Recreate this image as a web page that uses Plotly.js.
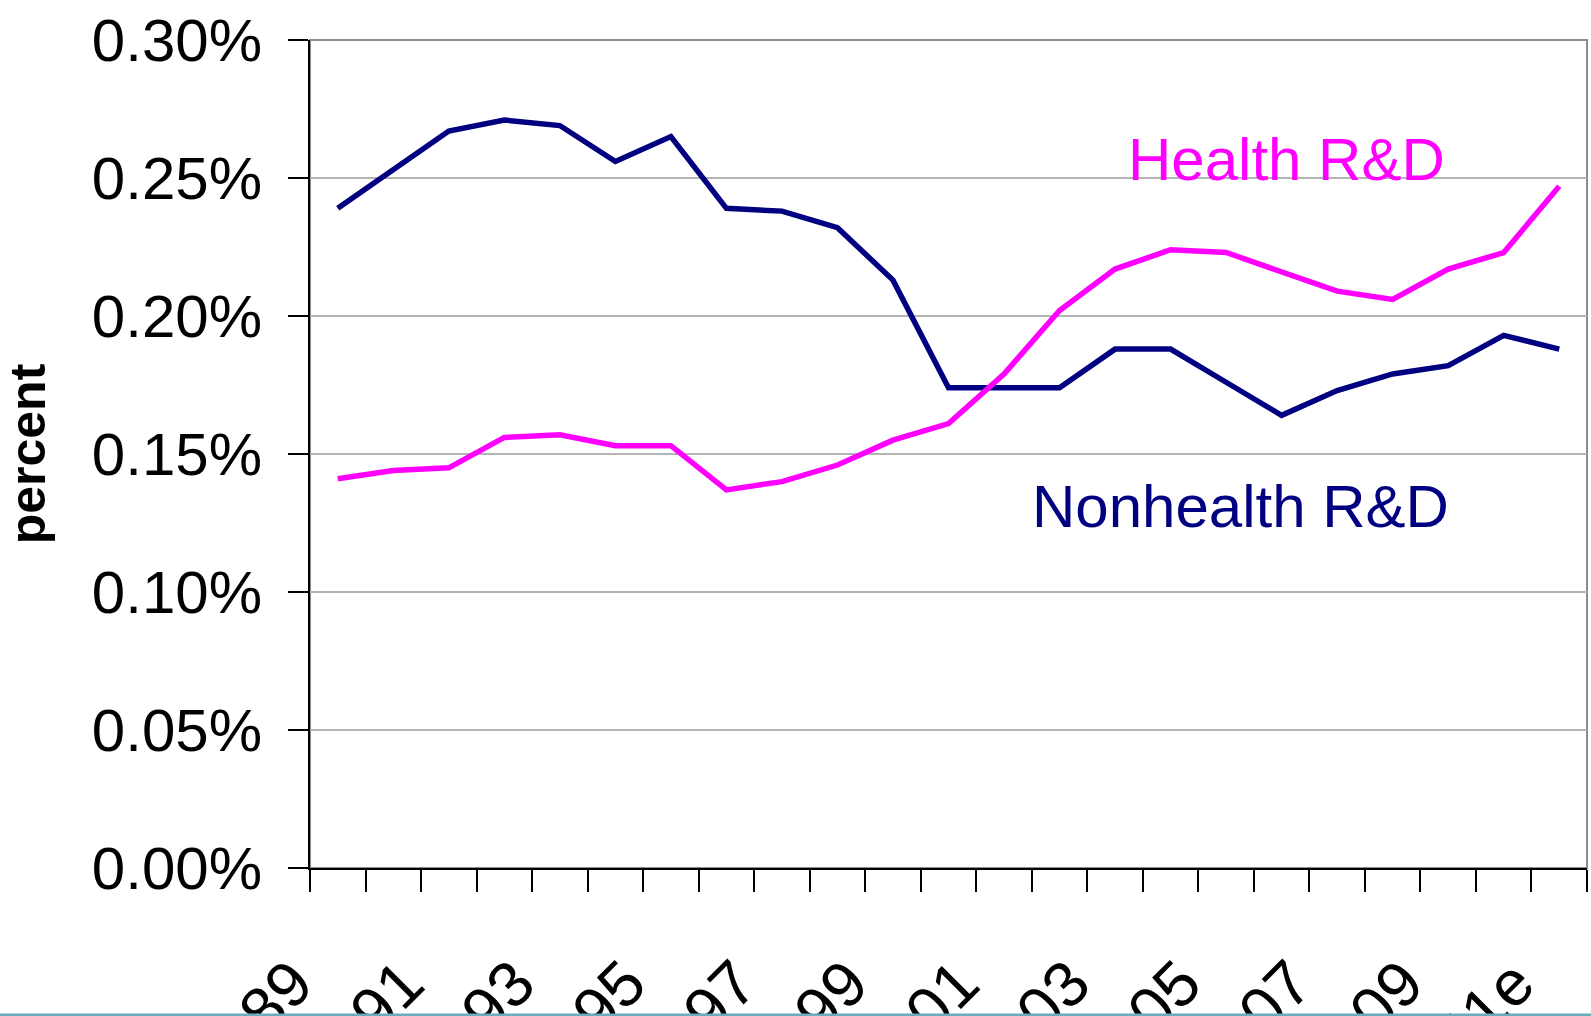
<!DOCTYPE html>
<html>
<head>
<meta charset="utf-8">
<script src="https://cdn.plot.ly/plotly-3.0.1.min.js"></script>
<style>
  html, body { margin: 0; padding: 0; background: #ffffff; overflow: hidden; }
  #chart { width: 1591px; height: 1016px; }
</style>
</head>
<body>
<div id="chart"></div>
<script>
// Categories (years) along the x axis
const years = ['1989','1990','1991','1992','1993','1994','1995','1996','1997','1998','1999','2000',
               '2001','2002','2003','2004','2005','2006','2007','2008','2009','2010','2011e'];

// Federal R&D as percent of GDP (values in percent)
const healthRD = [0.141, 0.144, 0.145, 0.156, 0.157, 0.153, 0.153, 0.137, 0.140, 0.146, 0.155, 0.161,
                  0.179, 0.202, 0.217, 0.224, 0.223, 0.216, 0.209, 0.206, 0.217, 0.223, 0.247];
const nonhealthRD = [0.239, 0.253, 0.267, 0.271, 0.269, 0.256, 0.265, 0.239, 0.238, 0.232, 0.213, 0.174,
                     0.174, 0.174, 0.188, 0.188, 0.176, 0.164, 0.173, 0.179, 0.182, 0.193, 0.188];

// Series labels
const seriesNames = ['Health R&D', 'Nonhealth R&D'];
const yTitle = 'percent';

const xIdx = years.map((_, i) => i);
const labelIdx = xIdx.filter(i => i % 2 === 0);
const labelText = labelIdx.map(i => years[i]);

const FONT = 'Liberation Sans, Arial, Helvetica, sans-serif';

const traces = [
  {
    x: xIdx, y: nonhealthRD, name: seriesNames[1], type: 'scatter', mode: 'lines',
    line: { color: '#000080', width: 5.5 }, hoverinfo: 'skip'
  },
  {
    x: xIdx, y: healthRD, name: seriesNames[0], type: 'scatter', mode: 'lines',
    line: { color: '#ff00ff', width: 5.5 }, hoverinfo: 'skip'
  }
];

const layout = {
  width: 1591, height: 1016,
  margin: { l: 310, r: 4, t: 40, b: 148, pad: 0 },
  paper_bgcolor: '#ffffff', plot_bgcolor: '#ffffff',
  showlegend: false,
  font: { family: FONT, color: '#000000' },
  xaxis: {
    type: 'linear',
    range: [-0.5, years.length - 0.5],
    tickmode: 'array', tickvals: labelIdx, ticktext: labelText,
    tickangle: -45,
    ticks: '', showgrid: false, zeroline: false,
    showline: true, linecolor: '#000000', linewidth: 2,
    tickfont: { family: FONT, size: 64, color: '#000000' },
    ticklabelstandoff: 50, ticklabelshift: -44,
    minor: { tick0: -0.5, dtick: 1, ticks: 'outside', ticklen: 22, tickwidth: 2, tickcolor: '#000000', showgrid: false },
    fixedrange: true
  },
  yaxis: {
    range: [0, 0.30], dtick: 0.05, tick0: 0,
    tickformat: '.2f', ticksuffix: '%',
    ticks: 'outside', ticklen: 20, tickwidth: 2, tickcolor: '#000000',
    showline: true, linecolor: '#000000', linewidth: 2,
    showgrid: true, gridcolor: '#b4b4b4', gridwidth: 2,
    zeroline: false,
    tickfont: { family: FONT, size: 60, color: '#000000' },
    ticklabelstandoff: 14,
    title: { text: yTitle, font: { family: FONT, size: 50, color: '#000000', weight: 'bold' }, standoff: 36 },
    fixedrange: true
  },
  shapes: [
    { type: 'rect', xref: 'paper', yref: 'paper', x0: 0, x1: 1, y0: 0, y1: 1,
      line: { color: '#8c8c8c', width: 2 }, fillcolor: 'rgba(0,0,0,0)', layer: 'below' },
    { type: 'line', xref: 'paper', yref: 'paper', x0: -0.25, x1: 1.01, y0: -0.1775, y1: -0.1775,
      line: { color: '#6aaebe', width: 3 } }
  ],
  annotations: [
    { text: seriesNames[0], xref: 'paper', yref: 'paper', x: 0.765, y: 0.856,
      xanchor: 'center', yanchor: 'middle', showarrow: false,
      font: { family: FONT, size: 60, color: '#ff00ff' } },
    { text: seriesNames[1], xref: 'paper', yref: 'paper', x: 0.729, y: 0.436,
      xanchor: 'center', yanchor: 'middle', showarrow: false,
      font: { family: FONT, size: 60, color: '#000080' } }
  ]
};

Plotly.newPlot('chart', traces, layout, { staticPlot: true, displayModeBar: false });
</script>
</body>
</html>
